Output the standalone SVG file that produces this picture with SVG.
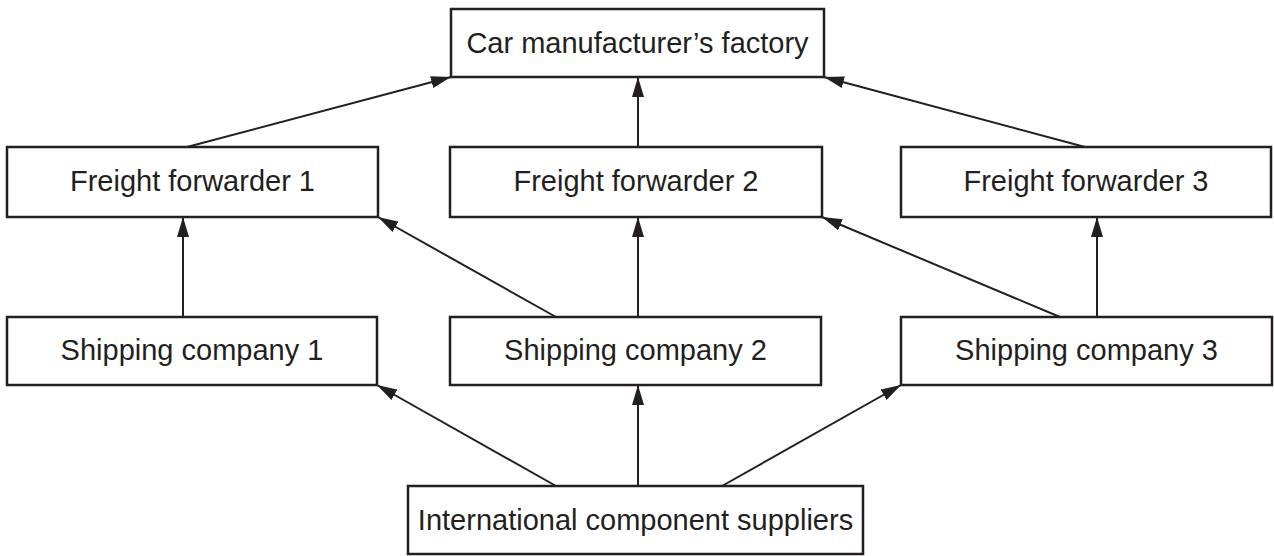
<svg xmlns="http://www.w3.org/2000/svg" width="1274" height="556" viewBox="0 0 1274 556">
<style>
.box{fill:#fff;stroke:#231f20;stroke-width:2.5}
.lbl{font-family:"Liberation Sans",Arial,sans-serif;font-size:29px;fill:#231f20;text-anchor:middle}
.c{stroke:#231f20;stroke-width:2;fill:none;marker-end:url(#ah)}
</style>
<defs>
<marker id="ah" markerUnits="userSpaceOnUse" markerWidth="20" markerHeight="12" refX="20" refY="6" orient="auto">
<path d="M0,0 L20,6 L0,12 z" fill="#231f20"/>
</marker>
</defs>
<rect width="1274" height="556" fill="#fff"/>
<g id="connectors">
<line class="c" x1="187" y1="147" x2="451" y2="77"/>
<line class="c" x1="638" y1="147" x2="638" y2="77"/>
<line class="c" x1="1085" y1="147" x2="824" y2="77"/>
<line class="c" x1="183" y1="317" x2="183" y2="217"/>
<line class="c" x1="556" y1="317" x2="378" y2="217"/>
<line class="c" x1="638" y1="317" x2="638" y2="217"/>
<line class="c" x1="1060" y1="317" x2="822" y2="217"/>
<line class="c" x1="1097" y1="317" x2="1097" y2="217"/>
<line class="c" x1="556" y1="486" x2="377" y2="385"/>
<line class="c" x1="638" y1="486" x2="638" y2="385"/>
<line class="c" x1="722" y1="486" x2="901" y2="385"/>
</g>
<g id="factory"><rect class="box" x="451" y="9" width="373" height="68"/><text class="lbl" x="637.5" y="53">Car manufacturer’s factory</text></g>
<g id="ff1"><rect class="box" x="7" y="147" width="371" height="70"/><text class="lbl" x="192.5" y="191">Freight forwarder 1</text></g>
<g id="ff2"><rect class="box" x="450" y="147" width="372" height="70"/><text class="lbl" x="636" y="191">Freight forwarder 2</text></g>
<g id="ff3"><rect class="box" x="901" y="147" width="370" height="70"/><text class="lbl" x="1086" y="191">Freight forwarder 3</text></g>
<g id="sc1"><rect class="box" x="7" y="317" width="370" height="68"/><text class="lbl" x="192" y="360">Shipping company 1</text></g>
<g id="sc2"><rect class="box" x="450" y="317" width="371" height="68"/><text class="lbl" x="635.5" y="360">Shipping company 2</text></g>
<g id="sc3"><rect class="box" x="901" y="317" width="371" height="68"/><text class="lbl" x="1086.5" y="360">Shipping company 3</text></g>
<g id="ics"><rect class="box" x="408" y="486" width="455" height="68"/><text class="lbl" x="635.5" y="530">International component suppliers</text></g>
</svg>
